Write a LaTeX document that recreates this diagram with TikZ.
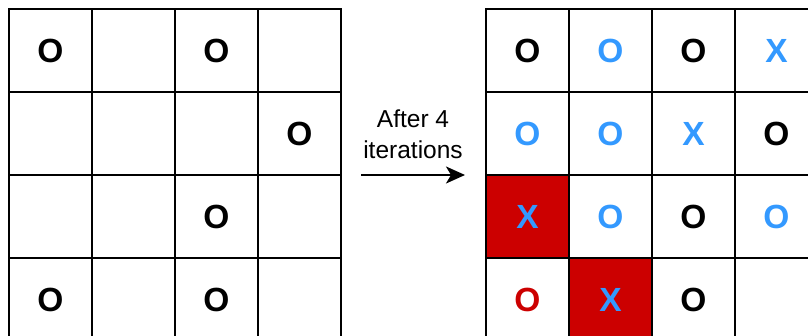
\documentclass[tikz,border=0pt]{standalone}
\usepackage{fontspec}
\setmainfont{Liberation Sans}
\usetikzlibrary{arrows.meta}
\definecolor{mblue}{HTML}{3399FF}
\definecolor{mred}{HTML}{CC0000}
\begin{document}
\begin{tikzpicture}[x=1pt,y=-1pt,
  cell/.style={draw=black,line width=2pt,minimum width=83pt,minimum height=83pt,inner sep=0pt,
    font=\fontsize{33.5}{33.5}\selectfont\bfseries},
  bk/.style={text=black},
  bl/.style={text=mblue},
  rd/.style={text=mred},
  redbg/.style={fill=mred,text=mblue},
  lbl/.style={font=\fontsize{24.5}{31}\selectfont,align=center,inner sep=0pt},
  conn/.style={line width=2pt,-{Stealth[length=19pt,width=17pt,inset=5pt]}}]
\useasboundingbox (0,0) rectangle (808,336);
% left grid
\foreach \r/\c/\t/\s in {1/1/O/bk,1/2//bk,1/3/O/bk,1/4//bk,
  2/1//bk,2/2//bk,2/3//bk,2/4/O/bk,
  3/1//bk,3/2//bk,3/3/O/bk,3/4//bk,
  4/1/O/bk,4/2//bk,4/3/O/bk,4/4//bk}{
  \node[cell,\s] (L-\r-\c) at ({50.5+83*(\c-1)},{50.5+83*(\r-1)}) {\t};
}
% right grid
\foreach \r/\c/\t/\s in {1/1/O/bk,1/2/O/bl,1/3/O/bk,1/4/X/bl,
  2/1/O/bl,2/2/O/bl,2/3/X/bl,2/4/O/bk,
  3/1/X/redbg,3/2/O/bl,3/3/O/bk,3/4/O/bl,
  4/1/O/rd,4/2/X/redbg,4/3/O/bk,4/4//bk}{
  \node[cell,\s] (R-\r-\c) at ({527.5+83*(\c-1)},{50.5+83*(\r-1)}) {\t};
}
\node[lbl] (label) at (413,134) {After 4\\iterations};
\coordinate (a0) at (361,175);
\coordinate (a1) at (465,175);
\draw[conn] (a0) -- (a1);
\end{tikzpicture}
\end{document}
